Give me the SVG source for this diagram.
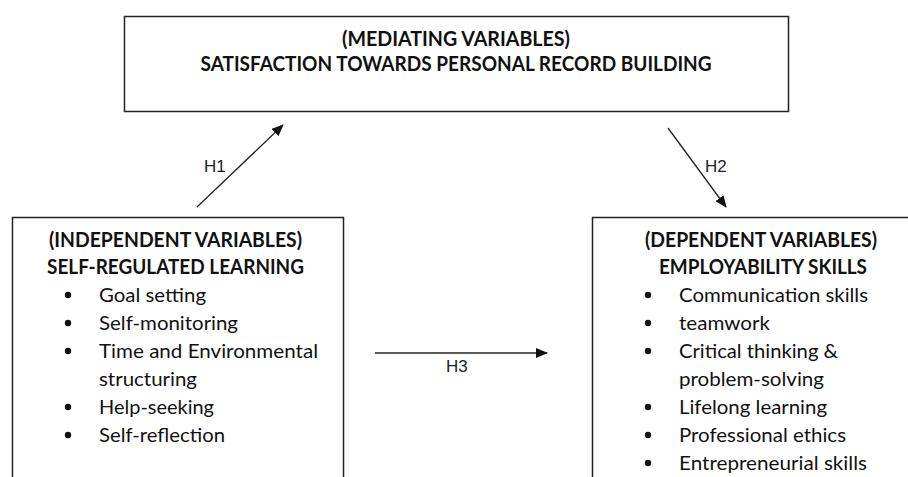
<svg xmlns="http://www.w3.org/2000/svg" width="908" height="477" viewBox="0 0 908 477">
<style>
.box{fill:#fff;stroke:#222;stroke-width:1.5}
.h{font-family:Lato,"Liberation Sans",sans-serif;font-weight:bold;font-size:20px;fill:#111}
.t{font-family:Lato,"Liberation Sans",sans-serif;font-size:20px;fill:#111}
.lbl{font-family:"Liberation Sans",Arial,sans-serif;font-size:17px;fill:#222}
.con{stroke:#222;stroke-width:1.3;fill:none;marker-end:url(#ah)}
.bul{fill:#111}
</style>
<defs>
<marker id="ah" viewBox="0 0 12 10" refX="11" refY="5" markerWidth="12" markerHeight="10" markerUnits="userSpaceOnUse" orient="auto">
<path d="M0,0 L12,5 L0,10 z" fill="#111"/>
</marker>
</defs>
<rect width="908" height="477" fill="#fff"/>
<g id="mediating">
<rect class="box" x="124.5" y="16.5" width="664" height="95"/>
<text class="h" x="342" y="45.5" textLength="228" lengthAdjust="spacingAndGlyphs">(MEDIATING VARIABLES)</text>
<text class="h" x="200.5" y="71" textLength="511" lengthAdjust="spacingAndGlyphs">SATISFACTION TOWARDS PERSONAL RECORD BUILDING</text>
</g>
<g id="independent">
<rect class="box" x="12.5" y="217.5" width="331" height="290"/>
<text class="h" x="49" y="247" textLength="253" lengthAdjust="spacingAndGlyphs">(INDEPENDENT VARIABLES)</text>
<text class="h" x="47" y="273.5" textLength="257" lengthAdjust="spacingAndGlyphs">SELF-REGULATED LEARNING</text>
<circle class="bul" cx="68" cy="295" r="3.2"/>
<circle class="bul" cx="68" cy="323" r="3.2"/>
<circle class="bul" cx="68" cy="351" r="3.2"/>
<circle class="bul" cx="68" cy="407" r="3.2"/>
<circle class="bul" cx="68" cy="435" r="3.2"/>
<text class="t" x="99" y="301.5" textLength="107" lengthAdjust="spacingAndGlyphs">Goal setting</text>
<text class="t" x="99" y="329.5" textLength="139" lengthAdjust="spacingAndGlyphs">Self-monitoring</text>
<text class="t" x="99" y="357.5" textLength="219" lengthAdjust="spacingAndGlyphs">Time and Environmental</text>
<text class="t" x="99" y="385.5" textLength="98" lengthAdjust="spacingAndGlyphs">structuring</text>
<text class="t" x="99" y="413.5" textLength="115" lengthAdjust="spacingAndGlyphs">Help-seeking</text>
<text class="t" x="99" y="441.5" textLength="126" lengthAdjust="spacingAndGlyphs">Self-reflection</text>
</g>
<g id="dependent">
<rect class="box" x="592.5" y="217.5" width="340" height="290"/>
<text class="h" x="645" y="247" textLength="232" lengthAdjust="spacingAndGlyphs">(DEPENDENT VARIABLES)</text>
<text class="h" x="659" y="273.5" textLength="208" lengthAdjust="spacingAndGlyphs">EMPLOYABILITY SKILLS</text>
<circle class="bul" cx="648" cy="295" r="3.2"/>
<circle class="bul" cx="648" cy="323" r="3.2"/>
<circle class="bul" cx="648" cy="351" r="3.2"/>
<circle class="bul" cx="648" cy="407" r="3.2"/>
<circle class="bul" cx="648" cy="435" r="3.2"/>
<circle class="bul" cx="648" cy="463" r="3.2"/>
<text class="t" x="679" y="301.5" textLength="189" lengthAdjust="spacingAndGlyphs">Communication skills</text>
<text class="t" x="679" y="329.5" textLength="91" lengthAdjust="spacingAndGlyphs">teamwork</text>
<text class="t" x="679" y="357.5" textLength="159" lengthAdjust="spacingAndGlyphs">Critical thinking &amp;</text>
<text class="t" x="679" y="385.5" textLength="145" lengthAdjust="spacingAndGlyphs">problem-solving</text>
<text class="t" x="679" y="413.5" textLength="148" lengthAdjust="spacingAndGlyphs">Lifelong learning</text>
<text class="t" x="679" y="441.5" textLength="167" lengthAdjust="spacingAndGlyphs">Professional ethics</text>
<text class="t" x="679" y="469.5" textLength="188" lengthAdjust="spacingAndGlyphs">Entrepreneurial skills</text>
</g>
<g id="connectors">
<line class="con" x1="197" y1="207" x2="283" y2="125"/>
<line class="con" x1="668" y1="128" x2="726" y2="207"/>
<line class="con" x1="375" y1="353" x2="547" y2="353"/>
<text class="lbl" x="204" y="172">H1</text>
<text class="lbl" x="705" y="172">H2</text>
<text class="lbl" x="446" y="372">H3</text>
</g>
</svg>
